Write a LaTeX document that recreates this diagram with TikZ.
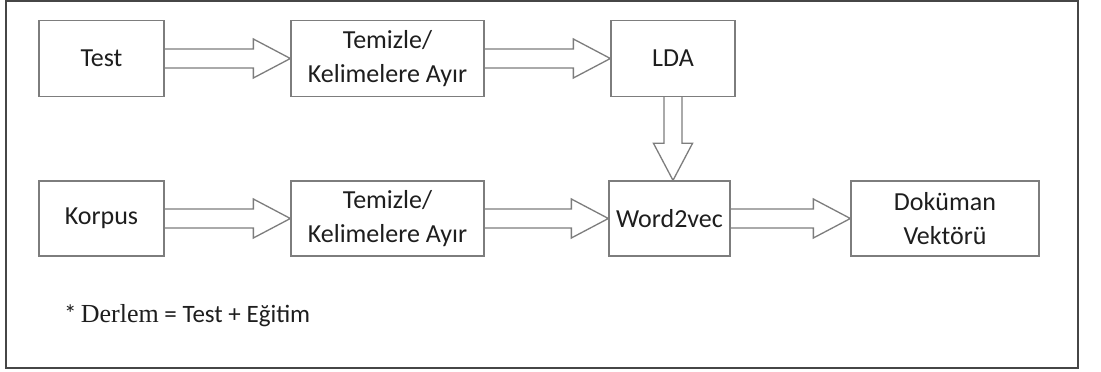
\documentclass[tikz,border=0pt]{standalone}
\usepackage{fontspec}
\setmainfont{Carlito}
\newfontfamily\serifnote{Liberation Serif}
\usetikzlibrary{calc}

\definecolor{boxgray}{RGB}{125,125,125}
\definecolor{framegray}{RGB}{70,70,70}
\definecolor{inkgray}{RGB}{30,30,30}

\tikzset{
  stepbox/.style={draw=boxgray, line width=1.3pt, fill=white, inner sep=0pt,
    align=center, text=inkgray, font=\fontsize{26}{34}\selectfont},
  barrow/.style={draw=boxgray, line width=1.3pt, line join=miter}
}

% hollow block arrow from the east side of #1 to the west side of #2
\newcommand\hblockarrow[2]{%
  \draw[barrow] ($(#1.east)+(0,9.5)$) -- ($(#2.west)+(-37,9.5)$)
    -- ($(#2.west)+(-37,19.5)$) -- (#2.west)
    -- ($(#2.west)+(-37,-19.5)$) -- ($(#2.west)+(-37,-9.5)$)
    -- ($(#1.east)+(0,-9.5)$);}

\begin{document}
\begin{tikzpicture}[x=1pt,y=1pt]
  \useasboundingbox (0,0) rectangle (1101,372);
  \fill[white] (0,0) rectangle (1101,372);
  % outer frame
  \draw[framegray, line width=2pt] (6,4) rectangle (1078,371);

  % first row
  \node[stepbox, minimum width=125, minimum height=76] (test) at (101.5,313.5) {Test};
  \node[stepbox, minimum width=193, minimum height=76] (clean1) at (387.5,313.5) {Temizle/\\Kelimelere Ayır};
  \node[stepbox, minimum width=124, minimum height=76] (lda) at (673,313.5) {LDA};

  % second row
  \node[stepbox, minimum width=125, minimum height=75] (corpus) at (101.5,153.5) {Korpus};
  \node[stepbox, minimum width=193, minimum height=75] (clean2) at (387.5,153.5) {Temizle/\\Kelimelere Ayır};
  \node[stepbox, minimum width=121, minimum height=75] (w2v) at (669.5,153.5) {Word2vec};
  \node[stepbox, minimum width=188, minimum height=75] (docvec) at (945,153.5) {Doküman\\Vektörü};

  % horizontal flow
  \hblockarrow{test}{clean1}
  \hblockarrow{clean1}{lda}
  \hblockarrow{corpus}{clean2}
  \hblockarrow{clean2}{w2v}
  \hblockarrow{w2v}{docvec}

  % LDA feeds Word2vec from above
  \coordinate (ldatip) at (lda.south |- w2v.north);
  \draw[barrow] ($(lda.south)+(-9,0)$) -- ($(ldatip)+(-9,37)$)
    -- ($(ldatip)+(-19.5,37)$) -- (ldatip)
    -- ($(ldatip)+(19.5,37)$) -- ($(ldatip)+(9,37)$)
    -- ($(lda.south)+(9,0)$);

  % footnote
  \node[anchor=base west, inner sep=0pt, text=inkgray] (note) at (64,49)
    {\fontsize{25}{30}\selectfont *\,{\serifnote\fontsize{26}{30}\selectfont Derlem} = Test + Eğitim};
\end{tikzpicture}
\end{document}
